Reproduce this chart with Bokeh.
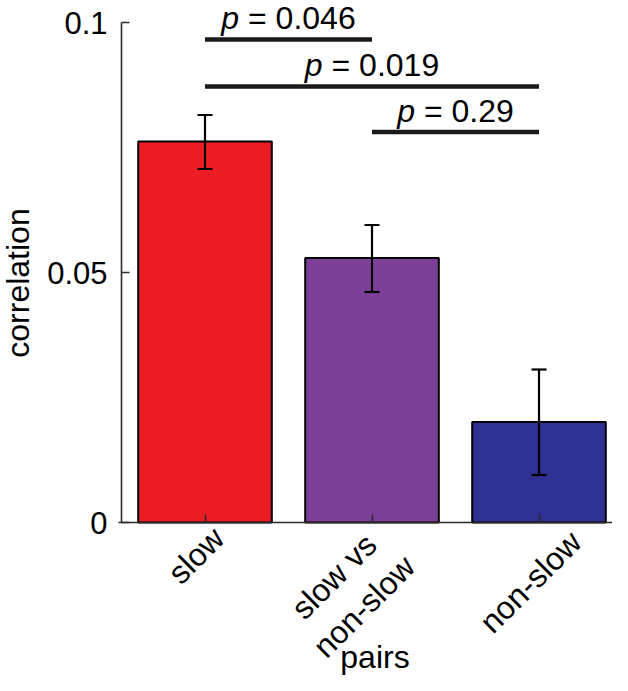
import math
from bokeh.plotting import figure
from bokeh.models import (ColumnDataSource, Range1d, FixedTicker, NumeralTickFormatter,
                          Whisker, TeeHead, Label)
from bokeh.embed import file_html
from bokeh.resources import INLINE

# ---- data ----
categories = ["slow", "slow vs\nnon-slow", "non-slow"]
positions = [1, 2, 3]
corr_mean = [0.0762, 0.0529, 0.0201]
corr_upper = [0.0815, 0.0595, 0.0306]
corr_lower = [0.0707, 0.0461, 0.0095]
bar_colors = ["#ED1C24", "#7E3F98", "#2E3192"]

comp_start = [1, 1, 2]
comp_end = [2, 3, 3]
comp_height = [0.0966, 0.0872, 0.0781]
comp_pvalue = ["0.046", "0.019", "0.29"]

y_ticks = [0, 0.05, 0.1]
y_label = "correlation"
x_label = "pairs"

# ---- style ----
FONT = "Liberation Sans"
FS = "32px"
FS_NUM = 32
TICK_FS = "31px"
AXIS_COLOR = "#2a2a2a"
# Arial-metric advance widths (em) used to centre the mixed italic/roman p-labels
ADV = {"p": 0.556, "=": 0.584, " ": 0.278, "\u00a0": 0.278, ".": 0.278}


def adv(s):
    return sum(ADV.get(c, 0.556) for c in s) * FS_NUM


p = figure(width=612, height=675, output_backend="svg", toolbar_location=None,
           x_range=Range1d(-0.2246, 3.4401), y_range=Range1d(-0.0306, 0.1044),
           min_border=0, min_border_left=0, min_border_right=0, min_border_top=0,
           min_border_bottom=0)
p.outline_line_color = None
p.xgrid.visible = False
p.ygrid.visible = False
p.background_fill_color = "white"
p.border_fill_color = "white"

src = ColumnDataSource(dict(x=positions, top=corr_mean, upper=corr_upper,
                            lower=corr_lower, color=bar_colors))
p.vbar(x="x", top="top", bottom=0, width=0.8, fill_color="color",
       line_color="black", line_width=2, source=src)

wh = Whisker(base="x", upper="upper", lower="lower", source=src,
             line_color="black", line_width=2.2, level="annotation",
             upper_head=TeeHead(size=15, line_color="black", line_width=2.2),
             lower_head=TeeHead(size=15, line_color="black", line_width=2.2))
p.add_layout(wh)

# significance bars
sig = ColumnDataSource(dict(x0=comp_start, x1=comp_end, y=comp_height))
p.segment(x0="x0", x1="x1", y0="y", y1="y", line_color="#1a1a1a", line_width=4.5,
          source=sig)

for a, b, h, pv in zip(comp_start, comp_end, comp_height, comp_pvalue):
    xm = (a + b) / 2
    rest = "\u00a0= " + pv
    split = -(adv("p") + adv(rest)) / 2 + adv("p")
    p.add_layout(Label(x=xm, y=h, x_offset=split, y_offset=21.5, text="p",
                       text_font=FONT, text_font_size=FS, text_font_style="italic",
                       text_align="right", text_baseline="middle",
                       text_color="black"))
    p.add_layout(Label(x=xm, y=h, x_offset=split, y_offset=21.5, text=rest,
                       text_font=FONT, text_font_size=FS,
                       text_align="left", text_baseline="middle",
                       text_color="black"))

# axes (fixed inside the frame)
yax = p.yaxis[0]
yax.fixed_location = 0.5
yax.bounds = (0, 0.1)
yax.ticker = FixedTicker(ticks=y_ticks)
yax.formatter = NumeralTickFormatter(format="0.[00]")
yax.major_tick_in = 8
yax.major_tick_out = 0
yax.minor_tick_line_color = None
yax.axis_line_color = AXIS_COLOR
yax.axis_line_width = 1.6
yax.major_tick_line_color = AXIS_COLOR
yax.major_tick_line_width = 1.6
yax.major_label_text_font = FONT
yax.major_label_text_font_size = TICK_FS
yax.major_label_text_color = "black"
yax.major_label_standoff = 14

xax = p.xaxis[0]
xax.fixed_location = 0
xax.bounds = (0.48, 3.51)
xax.ticker = FixedTicker(ticks=positions)
xax.major_label_overrides = {k: "" for k in positions}
xax.major_tick_in = 8
xax.major_tick_out = 0
xax.minor_tick_line_color = None
xax.axis_line_color = AXIS_COLOR
xax.axis_line_width = 1.6
xax.major_tick_line_color = AXIS_COLOR
xax.major_tick_line_width = 1.6
xax.major_label_standoff = 0

# axis titles
p.add_layout(Label(x=0.5, y=0.05, x_offset=-104, y_offset=-10.5, text=y_label,
                   angle=math.pi / 2, text_font=FONT, text_font_size=FS,
                   text_align="center", text_baseline="middle", text_color="black"))
p.add_layout(Label(x=2, y=0, x_offset=3, y_offset=-134, text=x_label,
                   text_font=FONT, text_font_size=FS,
                   text_align="center", text_baseline="middle", text_color="black"))

# rotated category labels
label_offsets = [(-9, -33), (-23, -69), (-8.5, -59.5)]
for xpos, txt, (dx, dy) in zip(positions, categories, label_offsets):
    p.add_layout(Label(x=xpos, y=0, x_offset=dx, y_offset=dy, text=txt,
                       angle=math.pi / 4, text_font=FONT, text_font_size=FS,
                       text_align="center", text_baseline="middle",
                       text_color="black", text_line_height=1.18))

open("out.html", "w").write(file_html(p, INLINE))
